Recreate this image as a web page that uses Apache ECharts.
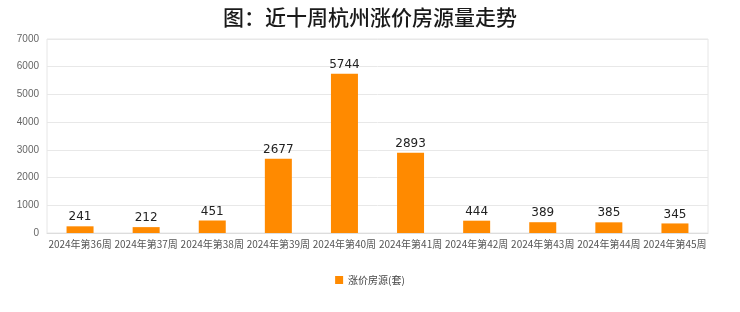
<!DOCTYPE html>
<html><head><meta charset="utf-8">
<script src="https://cdn.jsdelivr.net/npm/echarts@6/dist/echarts.min.js"></script>
<style>html,body{margin:0;padding:0;background:#fff}#c{width:740px;height:312px}</style>
</head><body><div id="c"></div>
<script>
const categories = ['2024年第36周','2024年第37周','2024年第38周','2024年第39周','2024年第40周','2024年第41周','2024年第42周','2024年第43周','2024年第44周','2024年第45周'];
const values = [241,212,451,2677,5744,2893,444,389,385,345];
const seriesName = '涨价房源(套)';
const yTicks = {min:0,max:7000,interval:1000};

const chart = echarts.init(document.getElementById('c'));
chart.setOption({
  animation:false,
  title:{text:'图：近十周杭州涨价房源量走势',left:'center',top:2,textStyle:{fontSize:21,fontWeight:500,color:'#1a1a1a',fontFamily:'Noto Sans CJK SC'}},
  grid:{left:47,right:32,top:39,bottom:79,show:true,borderColor:'#e6e6e6',borderWidth:1},
  legend:{bottom:22,left:'center',itemWidth:8,itemHeight:8,icon:'rect',textStyle:{fontSize:10,color:'#444',fontFamily:'Noto Sans CJK SC'},data:[seriesName]},
  xAxis:{type:'category',data:categories,axisTick:{show:false},axisLine:{lineStyle:{color:'#ddd'}},
    axisLabel:{interval:0,fontSize:10,color:'#555',margin:6,fontFamily:'Noto Sans CJK SC'}},
  yAxis:{type:'value',min:yTicks.min,max:yTicks.max,interval:yTicks.interval,axisLine:{show:false},axisTick:{show:false},
    splitLine:{lineStyle:{color:'#e8e8e8'}},axisLabel:{fontSize:10,color:'#666',margin:8,formatter:v=>String(v)}},
  series:[{name:seriesName,type:'bar',data:values,barWidth:27,itemStyle:{color:'#FF8A00'},
    label:{show:true,position:'top',fontSize:12,color:'#222',distance:3,fontFamily:'DejaVu Sans'}}]
});
</script></body></html>
